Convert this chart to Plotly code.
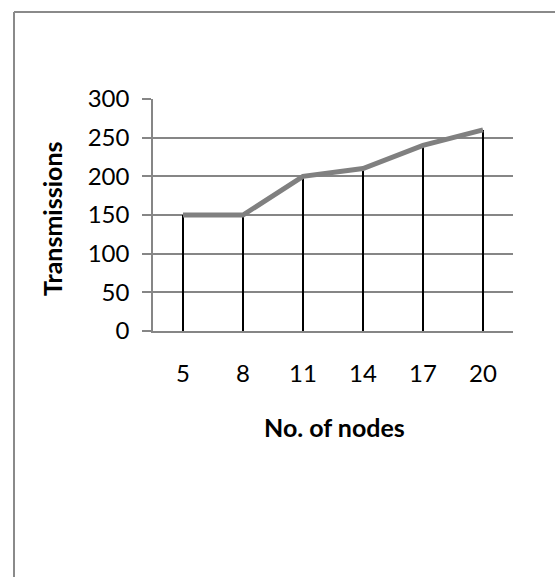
import plotly.graph_objects as go

categories = ["5", "8", "11", "14", "17", "20"]
transmissions = [150, 150, 200, 210, 240, 260]
y_ticks = [0, 50, 100, 150, 200, 250, 300]

FONT = "Lato"
W, H = 555, 577
L, R, T, B = 153, 42, 99, 246
pw, ph = W - L - R, H - T - B

def px_x(p):
    return (p - L) / pw

def px_y(p):
    return (H - B - p) / ph

fig = go.Figure()
# drop lines (black) from each point down to the axis
fig.add_trace(go.Scatter(
    x=categories, y=transmissions, mode="markers",
    marker=dict(size=0.1, color="rgba(0,0,0,0)"),
    error_y=dict(type="data", symmetric=False, array=[0] * len(transmissions),
                 arrayminus=transmissions, color="black", thickness=2, width=0),
    showlegend=False, hoverinfo="skip"))
# gray series line
fig.add_trace(go.Scatter(
    x=categories, y=transmissions, mode="lines",
    line=dict(color="#808080", width=5), showlegend=False))

fig.update_xaxes(type="category", range=[-0.5, 5.5], showgrid=False,
                 showline=True, linecolor="#868686", linewidth=1.5,
                 ticks="", tickfont=dict(family=FONT, size=24, color="black"),
                 ticklabelstandoff=20, zeroline=False)
fig.update_yaxes(range=[0, 300], tickvals=y_ticks, showgrid=True,
                 gridcolor="#868686", gridwidth=1.5, showline=True,
                 linecolor="#868686", linewidth=1.5, ticks="outside",
                 ticklen=9, tickcolor="#868686", tickwidth=1.5,
                 tickfont=dict(family=FONT, size=24, color="black"),
                 ticklabelstandoff=8, zeroline=False)

fig.add_annotation(text="<b>Transmissions</b>", xref="paper", yref="paper",
                   x=px_x(52), y=px_y(219), textangle=-90, showarrow=False,
                   font=dict(family=FONT, size=25, color="black"),
                   xanchor="center", yanchor="middle")
fig.add_annotation(text="<b>No. of nodes</b>", xref="paper", yref="paper",
                   x=px_x(334.5), y=px_y(427), showarrow=False,
                   font=dict(family=FONT, size=25, color="black"),
                   xanchor="center", yanchor="middle")

# outer chart frame (left and top edges visible)
fx, fy = px_x(14), px_y(12)
fig.add_shape(type="line", xref="paper", yref="paper", x0=fx, y0=fy, x1=fx, y1=px_y(600),
              line=dict(color="#8a8a8a", width=2))
fig.add_shape(type="line", xref="paper", yref="paper", x0=fx, y0=fy, x1=px_x(600), y1=fy,
              line=dict(color="#8a8a8a", width=2))

fig.update_layout(width=W, height=H, margin=dict(l=L, r=R, t=T, b=B),
                  plot_bgcolor="white", paper_bgcolor="white")
fig.write_html("out.html", config={"displayModeBar": False},
               post_script="document.body.style.margin='0';")
